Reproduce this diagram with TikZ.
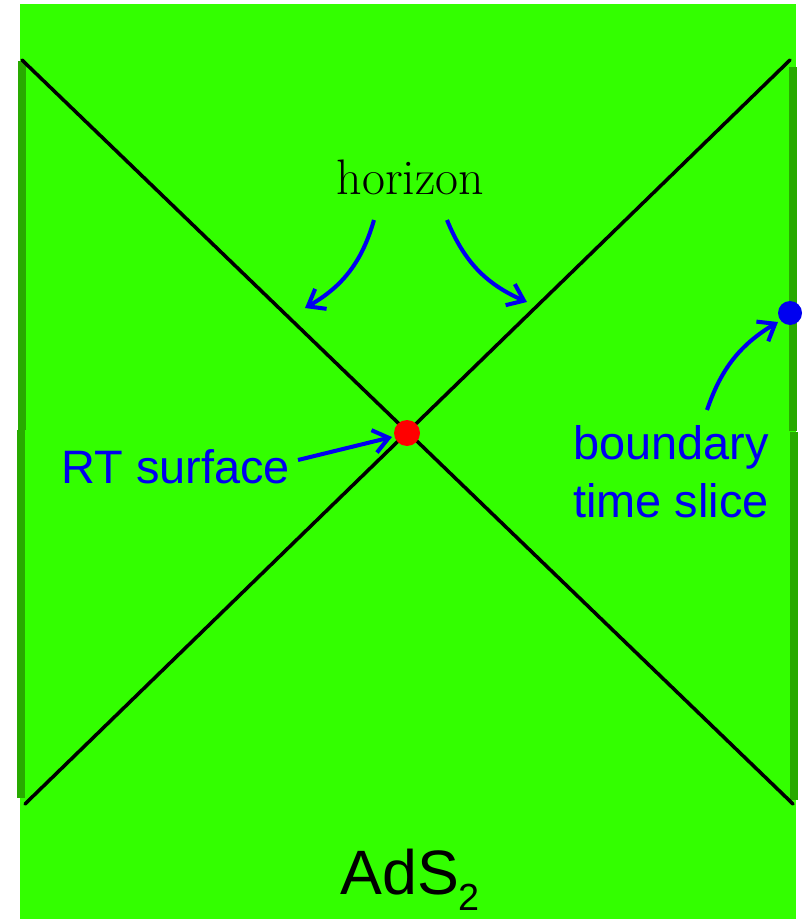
\documentclass[tikz,border=0pt]{standalone}
\usepackage{fontspec}
\setsansfont{Liberation Sans}
\usetikzlibrary{arrows.meta}
\definecolor{bulk}{RGB}{51,255,0}
\definecolor{edge}{RGB}{40,170,0}
\definecolor{lab}{RGB}{0,0,240}
\tikzset{
  arr/.style={draw=lab, line width=2.3pt, -{Straight Barb[length=0.3cm, width=0.46cm, line width=2.3pt]}},
  bluetext/.style={text=lab, inner sep=0pt, font=\sffamily\fontsize{26.7}{33}\selectfont}
}
\begin{document}
\begin{tikzpicture}[x=0.02cm, y=-0.02cm, line join=round]
  \useasboundingbox (0,0) rectangle (802,919);
  \fill[bulk] (20,4) rectangle (796,919);
  \foreach \xa/\ya/\yb in {22/61/430, 21/430/798, 793/67/431, 794/432/800}
    \draw[edge, line width=4.5pt] (\xa,\ya) -- (\xa,\yb);
  \coordinate (tl) at (22,60);
  \coordinate (tr) at (790,60);
  \coordinate (bl) at (25,804);
  \coordinate (br) at (793,804);
  \draw[line width=2pt, line cap=round] (tl) -- (br);
  \draw[line width=2pt, line cap=round] (tr) -- (bl);
  \node[circle, fill=red, inner sep=0pt, minimum size=0.52cm] (rtdot) at (407,433) {};
  \node[circle, fill=lab, inner sep=0pt, minimum size=0.48cm] (bdot) at (790,313) {};
  \node[anchor=base, inner sep=0pt, font=\fontsize{28.4}{34}\selectfont] (hor) at (410.5,194) {horizon};
  \node[bluetext, anchor=base west] (rtlab) at (61,483) {RT surface};
  \node[bluetext, anchor=base west, align=left] (bdlab) at (573,517) {boundary\\time slice};
  \node[anchor=base west, inner sep=0pt, font=\sffamily\fontsize{35.7}{43}\selectfont] (ads) at (340,894)
    {AdS\raisebox{-0.32cm}{\fontsize{21.5}{26}\selectfont 2}};
  % arrows
  \coordinate (h1) at (374,220);
  \coordinate (h2) at (305,308);
  \coordinate (h3) at (447,220);
  \coordinate (h4) at (527,302);
  \coordinate (b1) at (707,410);
  \coordinate (b2) at (778,322);
  \coordinate (r1) at (298,460);
  \coordinate (r2) at (392,437);
  \draw[arr] (h1) to[bend left=22] (h2);
  \draw[arr] (h3) to[bend right=22] (h4);
  \draw[arr] (b1) to[bend left=20] (b2);
  \draw[arr] (r1) -- (r2);
\end{tikzpicture}
\end{document}
